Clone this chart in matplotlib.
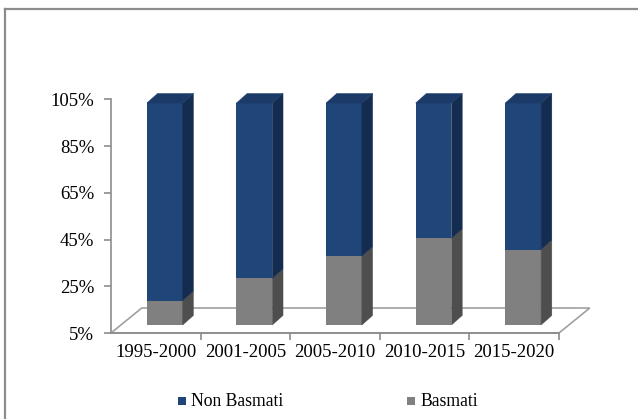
import matplotlib
matplotlib.use("Agg")
import matplotlib.pyplot as plt
from matplotlib.patches import Polygon, Rectangle
from matplotlib.lines import Line2D

# ── Données ───────────────────────────────────────────────────────────────────
periods = ["1995-2000", "2001-2005", "2005-2010", "2010-2015", "2015-2020"]
basmati = [11, 21, 31, 39, 34]
non_basmati = [100 - b for b in basmati]
yticks = [5, 25, 45, 65, 85, 105]

# ── Style ─────────────────────────────────────────────────────────────────────
SERIF = ["Liberation Serif", "DejaVu Serif"]
plt.rcParams["font.family"] = SERIF
BLUE = {"front": "#1F4579", "side": "#142C50", "top": "#1B3A67"}
GREY = {"front": "#808080", "side": "#4E4E4E", "top": "#6A6A6A"}
AXIS_COL = "#8C8C8C"

W, H = 638, 419
fig = plt.figure(figsize=(W / 100, H / 100), dpi=100)

# cadre gris (haut + gauche visibles)
fig.add_artist(Line2D([4.5 / W, 4.5 / W], [0, 1 - 9 / H], color=AXIS_COL,
                      linewidth=1.6, transform=fig.transFigure))
fig.add_artist(Line2D([4.5 / W, 1], [1 - 9 / H, 1 - 9 / H], color=AXIS_COL,
                      linewidth=1.6, transform=fig.transFigure))

rect = [111 / W, 1 - 333 / H, (559 - 111) / W, (333 - 99.5) / H]
ax = fig.add_axes(rect)
ax.set_xlim(0, 5)
ax.set_ylim(5, 105)
ax.set_facecolor("none")
for s in ["top", "right"]:
    ax.spines[s].set_visible(False)
for s in ["left", "bottom"]:
    ax.spines[s].set_color(AXIS_COL)
    ax.spines[s].set_linewidth(1.2)
ax.set_yticks(yticks)
ax.set_yticklabels([f"{v}%" for v in yticks], fontsize=13.5)
ax.set_xticks([1, 2, 3, 4, 5])
ax.set_xticklabels([])
ax.set_xticks([i + 0.5 for i in range(len(periods))], minor=True)
ax.set_xticklabels(periods, minor=True, fontsize=13.5)
ax.tick_params(axis="both", which="major", length=5, color=AXIS_COL, width=1.2)
ax.tick_params(axis="y", pad=7)
ax.tick_params(axis="x", which="minor", length=0, pad=8)

# plancher 3D
fdx, fdy = 0.343, 10.7
floor = Polygon([(0, 5), (5, 5), (5 + fdx, 5 + fdy), (fdx, 5 + fdy)],
                closed=True, facecolor="white", edgecolor="#A0A0A0",
                linewidth=1.2, clip_on=False, zorder=1)
ax.add_patch(floor)

# axe des barres (valeurs réelles 0-100 %)
ax2 = fig.add_axes(rect, sharex=ax)
ax2.set_ylim(-3.6, 101.58)
ax2.axis("off")

x_left = [i + 0.40 for i in range(len(periods))]
bw = 0.40
dx, dy = 0.12, 4.3

ax2.bar(x_left, basmati, width=bw, align="edge", color=GREY["front"],
        linewidth=0, zorder=3)
ax2.bar(x_left, non_basmati, bottom=basmati, width=bw, align="edge",
        color=BLUE["front"], linewidth=0, zorder=3)

for x0, b in zip(x_left, basmati):
    x1 = x0 + bw
    sides = [
        ([(x1, 0), (x1 + dx, dy), (x1 + dx, b + dy), (x1, b)], GREY["side"]),
        ([(x1, b), (x1 + dx, b + dy), (x1 + dx, 100 + dy), (x1, 100)], BLUE["side"]),
        ([(x0, 100), (x0 + dx, 100 + dy), (x1 + dx, 100 + dy), (x1, 100)], BLUE["top"]),
    ]
    for pts, col in sides:
        ax2.add_patch(Polygon(pts, closed=True, facecolor=col, edgecolor=col,
                              linewidth=0.3, clip_on=False, zorder=3))

# légende
leg_y = 1 - 401 / H
for x_sq, x_txt, col, lab in [(178, 191, BLUE["front"], "Non Basmati"),
                              (407, 420, GREY["front"], "Basmati")]:
    fig.add_artist(Rectangle((x_sq / W, 1 - 405 / H), 8 / W, 8 / H,
                             facecolor=col, edgecolor="none",
                             transform=fig.transFigure))
    fig.text(x_txt / W, leg_y, lab, fontsize=12.7, va="center", ha="left",
             family=SERIF)

fig.savefig("out.png", dpi=100)
